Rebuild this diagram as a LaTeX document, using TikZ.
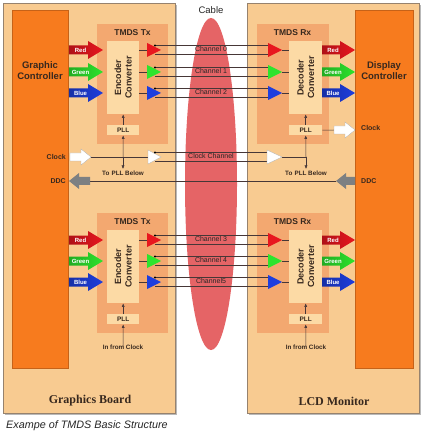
\documentclass[tikz,border=0pt]{standalone}
\usepackage{fontspec}
\setmainfont{Liberation Sans}
\newfontfamily\serifbd{Liberation Serif}
\usetikzlibrary{arrows.meta}
\definecolor{boardc}{RGB}{248,203,145}
\definecolor{boardline}{RGB}{150,130,110}
\definecolor{ctrlc}{RGB}{247,123,30}
\definecolor{tmdsc}{RGB}{243,168,112}
\definecolor{innerc}{RGB}{252,218,165}
\definecolor{cablec}{RGB}{229,100,102}
\definecolor{redc}{RGB}{232,22,30}
\definecolor{greenc}{RGB}{45,228,45}
\definecolor{bluec}{RGB}{30,62,222}
\definecolor{greyc}{RGB}{125,128,130}
\definecolor{wirec}{RGB}{70,55,55}
\definecolor{textc}{RGB}{55,40,30}
\newcommand\blkarrow[6]{%
  \path[left color=#5!75!black, right color=#5] (#2,#4-4.5) -- (#3-15,#4-4.5) -- (#3-15,#4-9) -- (#3,#4) -- (#3-15,#4+9) -- (#3-15,#4+4.5) -- (#2,#4+4.5) -- cycle;
  \node[arrtxt] (#1) at ({(#2+#3-15)/2+2},#4) {#6};
}
\newcommand\wharrow[3]{% tail x, tip x, y : white arrow pointing right
  \path[draw=gray!60, fill=white, line width=0.3pt] (#1,#3-4) -- (#2-10,#3-4) -- (#2-10,#3-8) -- (#2,#3) -- (#2-10,#3+8) -- (#2-10,#3+4) -- (#1,#3+4) -- cycle;
}
\newcommand\gyarrow[3]{% tip x, tail x, y : grey arrow pointing left
  \path[fill=greyc] (#2,#3-4) -- (#1+10,#3-4) -- (#1+10,#3-8) -- (#1,#3) -- (#1+10,#3+8) -- (#1+10,#3+4) -- (#2,#3+4) -- cycle;
}
\tikzset{
  board/.style={draw=boardline, fill=boardc, line width=0.6pt},
  ctrl/.style={fill=ctrlc, draw=ctrlc!80!black, line width=0.4pt, anchor=north west, inner sep=0},
  tmds/.style={fill=tmdsc, anchor=north west, inner sep=0},
  inbox/.style={fill=innerc, anchor=north west, inner sep=0},
  wire/.style={draw=wirec, line width=0.5pt},
  tipw/.style={-{Latex[length=3.5pt,width=3pt]}},
  arrtxt/.style={font=\fontsize{6}{6}\selectfont\bfseries, text=white, inner sep=0},
  chlbl/.style={font=\fontsize{7}{7}\selectfont, text=black!85, inner sep=0},
  smlbl/.style={font=\fontsize{6.3}{6.3}\selectfont\bfseries, text=textc, inner sep=0},
  sidelbl/.style={font=\fontsize{7}{7}\selectfont\bfseries, text=textc, inner sep=0},
  titlelbl/.style={font=\fontsize{8.5}{8.5}\selectfont\bfseries, text=textc, inner sep=0},
  convlbl/.style={font=\fontsize{9}{10.5}\selectfont\bfseries, text=textc, align=center, rotate=90, inner sep=0},
  plllbl/.style={font=\fontsize{6.5}{6.5}\selectfont\bfseries, text=textc},
  ctrllbl/.style={font=\fontsize{9.5}{11}\selectfont\bfseries, text=textc, align=center, inner sep=0},
  boardlbl/.style={font=\serifbd\fontsize{12}{12}\selectfont\bfseries, text=textc, inner sep=0},
}
\begin{document}
\begin{tikzpicture}[x=1pt,y=-1pt]
\useasboundingbox (0,0) rectangle (424,438);
\fill[white] (0,0) rectangle (424,438);

% boards with shadow
\fill[gray!55] (5,5) rectangle (177,415);
\draw[board] (3,3) rectangle (175,413);
\fill[gray!55] (249,5) rectangle (421,415);
\draw[board] (247,3) rectangle (419,413);

% controllers
\node[ctrl, minimum width=56pt, minimum height=358pt] (gc) at (12,10) {};
\node[ctrl, minimum width=58pt, minimum height=358pt] (dc) at (355,10) {};
\node[ctrllbl] (gct) at (40,71) {Graphic\\Controller};
\node[ctrllbl] (dct) at (384,71) {Display\\Controller};

% cable
\fill[cablec] (211,184) ellipse [x radius=26, y radius=166];
\node[font=\fontsize{9.5}{9.5}\selectfont, text=black!85, inner sep=0] (cab) at (211,10) {Cable};

% TMDS boxes
\foreach \n/\yt in {1/24, 2/213}{
  \node[tmds, minimum width=71pt, minimum height=120pt] (tx\n) at (97,\yt) {};
  \node[tmds, minimum width=72pt, minimum height=120pt] (rx\n) at (257,\yt) {};
  \node[titlelbl] (txt\n) at (132.5,\yt+8.5) {TMDS Tx};
  \node[titlelbl] (rxt\n) at (292.5,\yt+8.5) {TMDS Rx};
  \node[inbox, minimum width=32pt, minimum height=73pt] (enc\n) at (107,\yt+17) {};
  \node[inbox, minimum width=33pt, minimum height=73pt] (dec\n) at (289,\yt+17) {};
  \node[convlbl] (enct\n) at (enc\n.center) {Encoder\\Converter};
  \node[convlbl] (dect\n) at (dec\n.center) {Decoder\\Converter};
  \node[inbox, minimum width=32pt, minimum height=10pt] (pll\n) at (107,\yt+101) {};
  \node[inbox, minimum width=33pt, minimum height=10pt] (pllr\n) at (289,\yt+101) {};
  \node[plllbl] at (pll\n.center) {PLL};
  \node[plllbl] at (pllr\n.center) {PLL};
  \draw[wire,tipw] (pll\n.north) -- (enc\n.south);
  \draw[wire,tipw] (pllr\n.north) -- (dec\n.south);
}

% data channels
\foreach \yc/\col/\txt/\ch in {50/redc/Red/Channel 0, 72/greenc/Green/Channel 1, 93/bluec/Blue/Channel 2, 240/redc/Red/Channel 3, 261/greenc/Green/Channel 4, 282/bluec/Blue/Channel5}{
  \draw[wire] (139,\yc) -- (147,\yc);
  \draw[wire] (155,\yc-4.5) -- (268,\yc-4.5);
  \draw[wire] (155,\yc+4) -- (268,\yc+4);
  \draw[wire] (282,\yc) -- (289,\yc);
  \fill[\col] (147,\yc-7) -- (161,\yc) -- (147,\yc+7) -- cycle;
  \fill[\col] (268,\yc-7) -- (282,\yc) -- (268,\yc+7) -- cycle;
  \fill[black] (155,\yc-4.5) circle (1.1);
  \node[chlbl] (c\yc) at (211,\yc-1) {\ch};
  \blkarrow{a\yc}{69}{103}{\yc}{\col}{\txt}
  \blkarrow{b\yc}{322}{355}{\yc}{\col}{\txt}
}

% clock channel
\coordinate (ctin) at (91,157);
\coordinate (ctb) at (148,157);
\draw[wire] (ctin) -- (ctb);
\draw[wire] (155,152.5) -- (268,152.5);
\draw[wire] (155,161) -- (268,161);
\draw[wire] (282,157) -- (306,157);
\path[draw=gray!60, fill=white, line width=0.3pt] (148,150) -- (161,157) -- (148,164) -- cycle;
\path[draw=gray!60, fill=white, line width=0.3pt] (267,150) -- (282,157) -- (267,164) -- cycle;
\fill[black] (155,152.5) circle (1.1);
\node[chlbl] (cc) at (211,155.5) {Clock Channel};
\wharrow{70}{91}{157}
\node[sidelbl, anchor=east] (clkl) at (66,157) {Clock};

\coordinate (j1) at (123,157);
\coordinate (d1) at (123,169);
\draw[wire,tipw] (j1) -- (pll1.south);
\draw[wire,tipw] (j1) -- (d1);
\node[smlbl] (tpb1) at (123,173.5) {To\,\,PLL Below};
\coordinate (j2) at (306,157);
\coordinate (d2) at (306,169);
\draw[wire,tipw] (j2) -- (pllr1.south);
\draw[wire,tipw] (j2) -- (d2);
\node[smlbl] (tpb2) at (306,173.5) {To\,\,PLL Below};

% clock out on Rx
\coordinate (ckr) at (334,130);
\draw[wire] (pllr1.east) -- (ckr);
\wharrow{334}{355}{130}
\node[sidelbl, anchor=west] (clkr) at (361,128) {Clock};

% DDC
\coordinate (ddl) at (90,181);
\coordinate (ddr) at (336,181);
\draw[wire] (ddl) -- (ddr);
\gyarrow{69}{90}{181}
\gyarrow{336}{355}{181}
\node[sidelbl, anchor=east] (ddcl) at (66,181) {DDC};
\node[sidelbl, anchor=west] (ddcr) at (361,181) {DDC};

% bottom PLL inputs
\node[smlbl] (ifc1) at (123,347) {In from Clock};
\node[smlbl] (ifc2) at (306,347) {In from Clock};
\draw[wire,tipw] ([yshift=-2pt]ifc1.north) -- (pll2.south);
\draw[wire,tipw] ([yshift=-2pt]ifc2.north) -- (pllr2.south);

% board labels
\node[boardlbl] (gb) at (90,401) {Graphics Board};
\node[boardlbl] (lcd) at (334,401) {LCD Monitor};

% caption
\node[font=\fontsize{10.8}{10.8}\selectfont\itshape, anchor=west, inner sep=0, text=black!85] (cap) at (6,426) {Exampe of TMDS Basic Structure};
\end{tikzpicture}
\end{document}
